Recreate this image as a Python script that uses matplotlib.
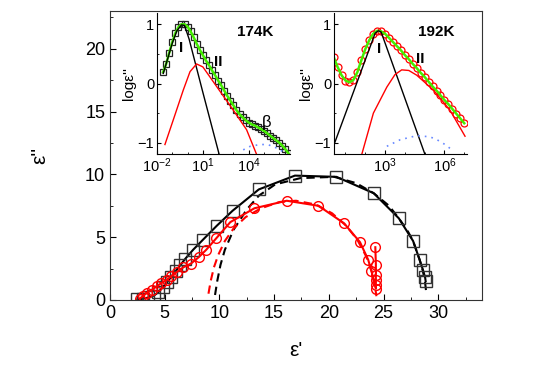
import matplotlib
matplotlib.use("Agg")
import matplotlib.pyplot as plt
from matplotlib.ticker import MultipleLocator, FixedLocator, NullFormatter

plt.rcParams['font.family'] = ['Liberation Sans', 'DejaVu Sans']
plt.rcParams['mathtext.fontset'] = 'custom'
plt.rcParams['mathtext.rm'] = 'Liberation Sans'
plt.rcParams['mathtext.it'] = 'Liberation Sans'

# ---- main Cole-Cole plot: eps'' vs eps' ----
# 174K (black squares)
eps1_174 = [28.85, 28.8, 28.6, 28.3, 27.7, 26.4, 24.1, 20.7, 16.9, 13.6, 11.2, 9.75,
            8.5, 7.6, 6.9, 6.4, 6.0, 5.6, 5.2, 4.8, 4.4, 4.0, 3.5, 3.0, 2.5]
eps2_174 = [1.5, 1.8, 2.4, 3.2, 4.7, 6.5, 8.5, 9.8, 9.9, 8.8, 7.1, 5.9,
            4.8, 4.0, 3.3, 2.75, 2.3, 1.85, 1.4, 1.0, 0.6, 0.35, 0.2, 0.1, 0.05]
fit1_174 = [9.6, 9.8, 10.1, 10.5, 11.3, 12.5, 13.6, 15.1, 17.4, 20.5, 22.5, 24.1,
            25.5, 26.4, 27.2, 27.7, 28.3, 28.6, 28.8, 28.9]
fit2_174 = [0.4, 1.5, 2.8, 4.0, 5.6, 7.2, 8.3, 9.2, 9.7, 9.8, 9.3, 8.5,
            7.5, 6.5, 5.5, 4.7, 3.2, 2.3, 1.4, 0.6]

# 192K (red circles)
eps1_192 = [24.25, 24.3, 24.3, 24.3, 24.3, 24.3, 23.9, 23.6, 22.85, 21.4, 19.05, 16.15,
            13.2, 11.0, 9.7, 8.8, 8.1, 7.4, 6.7, 6.15, 5.6, 5.2, 4.7, 4.3, 3.8, 3.35, 3.0, 2.7]
eps2_192 = [4.2, 2.8, 2.0, 1.6, 1.2, 0.9, 2.3, 3.2, 4.6, 6.1, 7.5, 7.9,
            7.3, 6.2, 4.9, 4.0, 3.4, 2.9, 2.6, 2.25, 1.9, 1.6, 1.35, 1.1, 0.8, 0.55, 0.3, 0.1]
fit1_192 = [9.0, 9.2, 9.5, 9.9, 10.5, 11.3, 12.4, 13.8, 15.5, 17.0, 18.8, 20.3,
            21.6, 22.6, 23.4, 23.9, 24.2, 24.35]
fit2_192 = [0.5, 1.5, 2.6, 3.6, 4.7, 5.7, 6.6, 7.3, 7.8, 7.9, 7.6, 6.9,
            5.9, 4.8, 3.5, 2.3, 1.2, 0.3]

# ---- inset 174K: log eps'' vs log f ----
in1_logf = [-1.6, -1.4, -1.2, -1.0, -0.8, -0.6, -0.4, -0.2, 0.0, 0.2, 0.4, 0.6, 0.8, 1.0,
            1.2, 1.4, 1.6, 1.8, 2.0, 2.2, 2.4, 2.6, 2.8, 3.0, 3.2, 3.4, 3.6, 3.8, 4.0,
            4.2, 4.4, 4.6, 4.8, 5.0, 5.2, 5.4, 5.6, 5.8, 6.0, 6.2, 6.4, 6.6]
in1_loge = [0.19, 0.33, 0.52, 0.70, 0.85, 0.95, 1.00, 1.00, 0.96, 0.88, 0.78, 0.67, 0.57, 0.48,
            0.39, 0.31, 0.22, 0.14, 0.05, -0.03, -0.12, -0.21, -0.29, -0.37, -0.45, -0.52, -0.57,
            -0.62, -0.66, -0.69, -0.71, -0.74, -0.77, -0.80, -0.84, -0.88, -0.92, -0.96, -1.00,
            -1.05, -1.11, -1.18]
in1_I_logf = [-1.59, -1.3, -1.0, -0.7, -0.4, -0.2, 0.1, 1.0, 2.07]
in1_I_loge = [0.17, 0.42, 0.68, 0.89, 0.99, 0.98, 0.75, -0.15, -1.2]
in1_II_logf = [-1.48, -0.93, -0.28, 0.16, 0.59, 1.0, 1.9, 2.99, 3.86, 4.52]
in1_II_loge = [-1.03, -0.61, -0.11, 0.20, 0.33, 0.28, -0.05, -0.45, -0.78, -1.2]
in1_b_logf = [3.64, 4.1, 4.73, 5.2, 5.6, 6.25]
in1_b_loge = [-1.12, -1.06, -1.03, -1.03, -1.06, -1.15]

# ---- inset 192K ----
in2_logf = [0.4, 0.6, 0.8, 1.0, 1.2, 1.4, 1.6, 1.8, 2.0, 2.2, 2.4, 2.6, 2.8, 3.0, 3.2, 3.4,
            3.6, 3.8, 4.0, 4.2, 4.4, 4.6, 4.8, 5.0, 5.2, 5.4, 5.6, 5.8, 6.0, 6.2, 6.4, 6.6,
            6.8, 7.0]
in2_loge = [0.45, 0.28, 0.14, 0.05, 0.02, 0.06, 0.19, 0.39, 0.58, 0.73, 0.84, 0.89, 0.88, 0.84,
            0.77, 0.70, 0.63, 0.56, 0.48, 0.41, 0.33, 0.26, 0.18, 0.11, 0.03, -0.05, -0.12,
            -0.20, -0.28, -0.35, -0.43, -0.51, -0.59, -0.67]
in2_I_logf = [0.39, 2.5, 2.66, 2.8, 5.02]
in2_I_loge = [-1.06, 0.85, 0.89, 0.87, -1.2]
in2_II_logf = [1.82, 2.41, 3.09, 3.5, 3.84, 4.2, 4.6, 5.44, 6.28, 7.04]
in2_II_loge = [-1.2, -0.5, -0.06, 0.15, 0.23, 0.22, 0.14, -0.11, -0.45, -0.89]
in2_b_logf = [3.09, 3.76, 4.6, 5.27, 5.63, 6.03, 6.38]
in2_b_loge = [-1.06, -0.95, -0.88, -0.9, -0.95, -1.03, -1.12]

W, H = 536, 376
fig = plt.figure(figsize=(W / 100, H / 100), dpi=100)

ax = fig.add_axes([110 / W, (H - 300) / H, 372 / W, 289 / H])
ax.plot(fit1_174, fit2_174, color="black", lw=1.5, ls=(0, (4, 2.5)))
ax.plot(fit1_192, fit2_192, color="red", lw=1.5, ls=(0, (4, 2.5)))
ax.plot(eps1_174, eps2_174, color="black", lw=1.5, marker="s", ms=8,
        mfc="none", mec="#333333", mew=1.0)
ax.plot(eps1_192, eps2_192, color="red", lw=1.5, marker="o", ms=7,
        mfc="none", mec="red", mew=1.0)
ax.set_xlim(0, 34)
ax.set_ylim(0, 23)
ax.xaxis.set_major_locator(MultipleLocator(5))
ax.xaxis.set_minor_locator(MultipleLocator(2.5))
ax.yaxis.set_major_locator(MultipleLocator(5))
ax.yaxis.set_minor_locator(MultipleLocator(2.5))
ax.tick_params(which="both", direction="in", labelsize=13)
ax.tick_params(which="major", length=4)
ax.tick_params(which="minor", length=2.5)
ax.set_xlabel("\u03b5'", fontsize=15, labelpad=14)
ax.set_ylabel("\u03b5''", fontsize=15, labelpad=26)
for s in ax.spines.values():
    s.set_color("#333333")


def make_inset(left, xlim, majors, labels):
    a = fig.add_axes([left / W, (H - 154) / H, 133 / W, 141 / H])
    a.set_facecolor("none")
    a.spines["top"].set_visible(False)
    a.spines["right"].set_visible(False)
    a.set_xscale("log")
    a.set_xlim(*xlim)
    a.set_ylim(-1.19, 1.19)
    a.xaxis.set_major_locator(FixedLocator(majors))
    a.xaxis.set_minor_locator(FixedLocator([10.0 ** k for k in range(-2, 8)]))
    a.xaxis.set_minor_formatter(NullFormatter())
    a.set_xticklabels(labels)
    a.yaxis.set_major_locator(FixedLocator([-1, 0, 1]))
    a.yaxis.set_minor_locator(FixedLocator([-0.5, 0.5]))
    a.tick_params(which="both", direction="in", labelsize=10.5, pad=2)
    a.tick_params(which="major", length=3)
    a.tick_params(which="minor", length=1.5)
    a.set_ylabel("log\u03b5''", fontsize=11, labelpad=1)
    return a


ax1 = make_inset(157, (10 ** -2, 10 ** 6.7), [1e-2, 1e1, 1e4],
                 ["$10^{-2}$", "$10^{1}$", "$10^{4}$"])
f1 = [10 ** v for v in in1_logf]
ax1.plot(f1, in1_loge, ls="none", marker="s", ms=3.8, mfc="none", mec="#222222", mew=0.9)
ax1.plot(f1, in1_loge, color="#44ee00", lw=1.8)
ax1.plot([10 ** v for v in in1_I_logf], in1_I_loge, color="black", lw=1)
ax1.plot([10 ** v for v in in1_II_logf], in1_II_loge, color="red", lw=1)
ax1.plot([10 ** v for v in in1_b_logf], in1_b_loge, color="#6688ff", lw=1.2, ls=(0, (1, 3)))
ax1.text(10 ** 4.4, 0.87, "174K", fontsize=11, fontweight="bold", ha="center", va="center")
ax1.text(10 ** -0.39, 0.6, "I", fontsize=11, fontweight="bold", ha="center", va="center")
ax1.text(10 ** 2.0, 0.37, "II", fontsize=11, fontweight="bold", ha="center", va="center")
ax1.text(10 ** 5.17, -0.66, "\u03b2", fontsize=12, ha="center", va="center")

ax2 = make_inset(334, (10 ** 0.42, 10 ** 7.14), [1e3, 1e6], ["$10^{3}$", "$10^{6}$"])
f2 = [10 ** v for v in in2_logf]
ax2.plot(f2, in2_loge, ls="none", marker="o", ms=5, mfc="none", mec="red", mew=0.9)
ax2.plot(f2, in2_loge, color="#44ee00", lw=1.8)
ax2.plot([10 ** v for v in in2_I_logf], in2_I_loge, color="black", lw=1)
ax2.plot([10 ** v for v in in2_II_logf], in2_II_loge, color="red", lw=1)
ax2.plot([10 ** v for v in in2_b_logf], in2_b_loge, color="#6688ff", lw=1.2, ls=(0, (1, 3)))
ax2.text(10 ** 5.61, 0.87, "192K", fontsize=11, fontweight="bold", ha="center", va="center")
ax2.text(10 ** 2.71, 0.58, "I", fontsize=11, fontweight="bold", ha="center", va="center")
ax2.text(10 ** 4.77, 0.42, "II", fontsize=11, fontweight="bold", ha="center", va="center")

fig.savefig("out.png", dpi=100)
